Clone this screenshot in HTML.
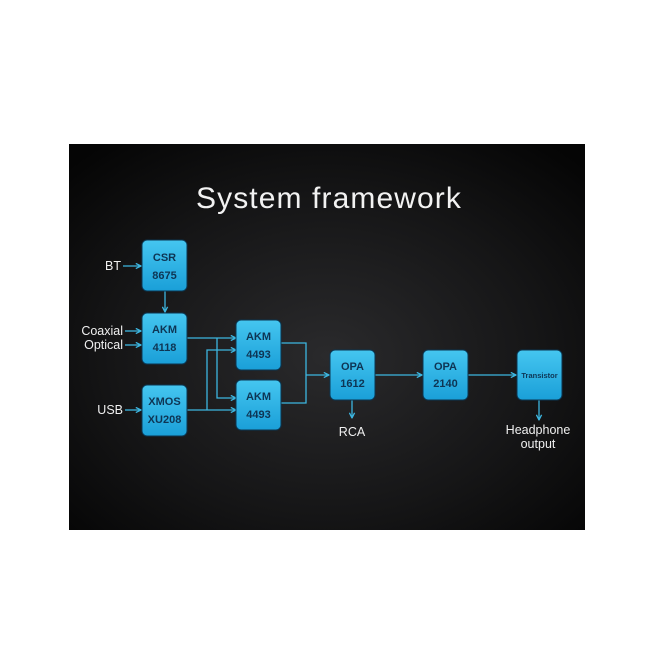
<!DOCTYPE html>
<html><head><meta charset="utf-8"><style>
html,body{margin:0;padding:0;background:#fff;width:650px;height:650px;overflow:hidden}
svg{display:block}
</style></head><body>
<svg width="650" height="650" viewBox="0 0 650 650" xmlns="http://www.w3.org/2000/svg">
<defs>
<radialGradient id="bg" cx="0.5" cy="0.55" r="0.7">
<stop offset="0" stop-color="#2a2a2c"/><stop offset="0.6" stop-color="#151516"/><stop offset="1" stop-color="#050505"/>
</radialGradient>
<linearGradient id="bx" x1="0" y1="0" x2="0" y2="1">
<stop offset="0" stop-color="#45c6f0"/><stop offset="1" stop-color="#1a9fd8"/>
</linearGradient>
<marker id="ar" viewBox="0 0 10 10" refX="9" refY="5" markerWidth="5" markerHeight="5" orient="auto">
<path d="M1,1 L9,5 L1,9" fill="none" stroke="#3cb6e0" stroke-width="2"/>
</marker>
</defs>
<rect x="69" y="144" width="516" height="386" fill="url(#bg)"/>
<text x="329" y="208" text-anchor="middle" fill="#f2f2f2" font-family="Liberation Sans, sans-serif" font-size="30" font-weight="300" letter-spacing="1.1">System framework</text>

<g stroke="#3cb6e0" stroke-width="1.3" fill="none">
<line x1="123" y1="266" x2="141" y2="266" marker-end="url(#ar)"/>
<line x1="125" y1="331" x2="141" y2="331" marker-end="url(#ar)"/>
<line x1="125" y1="345" x2="141" y2="345" marker-end="url(#ar)"/>
<line x1="125" y1="410" x2="141" y2="410" marker-end="url(#ar)"/>
<line x1="165" y1="291" x2="165" y2="312" marker-end="url(#ar)"/>
<line x1="187" y1="338" x2="236" y2="338" marker-end="url(#ar)"/>
<polyline points="217,338 217,398 236,398" marker-end="url(#ar)"/>
<line x1="187" y1="410" x2="236" y2="410" marker-end="url(#ar)"/>
<polyline points="207,410 207,350 236,350" marker-end="url(#ar)"/>
<polyline points="281,343 306,343 306,403 281,403"/>
<line x1="306" y1="375" x2="329" y2="375" marker-end="url(#ar)"/>
<line x1="374" y1="375" x2="422" y2="375" marker-end="url(#ar)"/>
<line x1="467" y1="375" x2="516" y2="375" marker-end="url(#ar)"/>
<line x1="352" y1="399" x2="352" y2="418" marker-end="url(#ar)"/>
<line x1="539" y1="399" x2="539" y2="420" marker-end="url(#ar)"/>
</g>

<g fill="url(#bx)" stroke="#0b3550" stroke-width="1">
<rect x="142" y="240" width="45" height="51" rx="5"/>
<rect x="142" y="313" width="45" height="51" rx="5"/>
<rect x="142" y="385" width="45" height="51" rx="5"/>
<rect x="236" y="320" width="45" height="50" rx="5"/>
<rect x="236" y="380" width="45" height="50" rx="5"/>
<rect x="330" y="350" width="45" height="50" rx="5"/>
<rect x="423" y="350" width="45" height="50" rx="5"/>
<rect x="517" y="350" width="45" height="50" rx="5"/>
</g>

<g fill="#0e3554" font-family="Liberation Sans, sans-serif" font-weight="bold" font-size="11" text-anchor="middle">
<text x="164.5" y="261">CSR</text><text x="164.5" y="279">8675</text>
<text x="164.5" y="333">AKM</text><text x="164.5" y="351">4118</text>
<text x="164.5" y="405">XMOS</text><text x="164.5" y="423">XU208</text>
<text x="258.5" y="340">AKM</text><text x="258.5" y="358">4493</text>
<text x="258.5" y="400">AKM</text><text x="258.5" y="418">4493</text>
<text x="352.5" y="370">OPA</text><text x="352.5" y="387">1612</text>
<text x="445.5" y="370">OPA</text><text x="445.5" y="387">2140</text>
<text x="539.5" y="378" font-size="7.5">Transistor</text>
</g>

<g fill="#f0f0f0" font-family="Liberation Sans, sans-serif" font-size="12.5">
<text x="121" y="270" text-anchor="end">BT</text>
<text x="123" y="335" text-anchor="end">Coaxial</text>
<text x="123" y="349" text-anchor="end">Optical</text>
<text x="123" y="414" text-anchor="end">USB</text>
<text x="352" y="436" text-anchor="middle">RCA</text>
<text x="538" y="434" text-anchor="middle">Headphone</text>
<text x="538" y="448" text-anchor="middle">output</text>
</g>
</svg>
</body></html>
